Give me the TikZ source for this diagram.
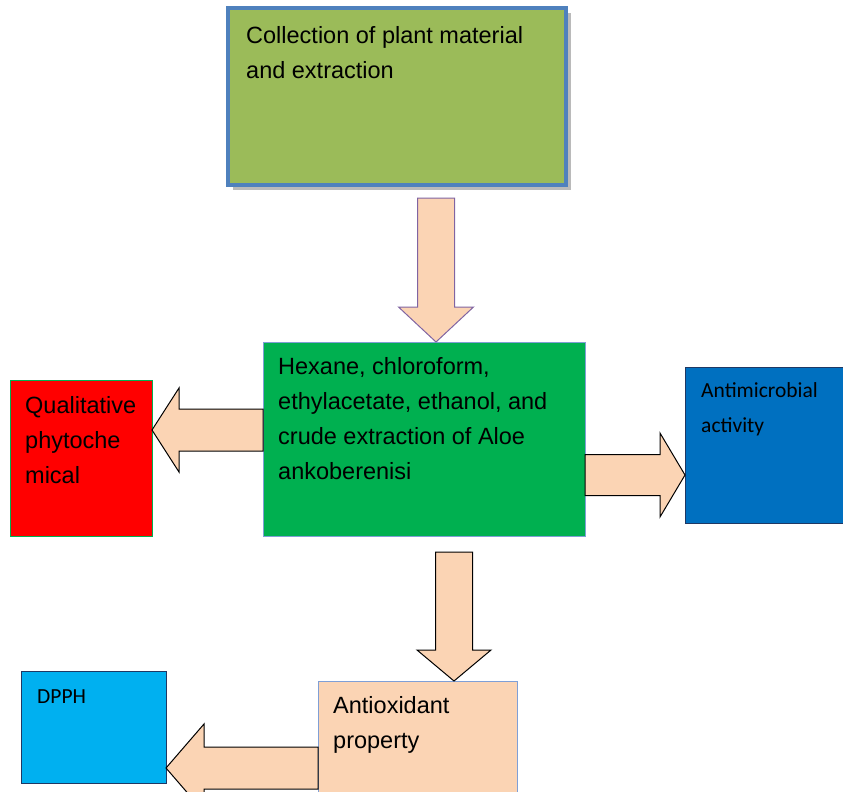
\documentclass[tikz,border=0pt]{standalone}
\usepackage{fontspec}
\setmainfont{Liberation Sans}
\newfontfamily\smallfont{Carlito}
\usepackage{xcolor}
\usepackage{tikz}
\usetikzlibrary{positioning,calc,shadows}
\definecolor{figolive}{HTML}{9BBB59}
\definecolor{figsteel}{HTML}{4F81BD}
\definecolor{figgreen}{HTML}{00B050}
\definecolor{figred}{HTML}{FF0000}
\definecolor{figblue}{HTML}{0070C0}
\definecolor{figsky}{HTML}{00B0F0}
\definecolor{figpeach}{HTML}{FBD4B4}
\definecolor{figedge}{HTML}{7F9FD6}
\definecolor{figdark}{HTML}{1F3864}
\definecolor{figplum}{HTML}{8064A2}

% block arrow: tail, tip, half shaft, half head, head length
\newcommand{\blockarrow}[6][black]{%
  \coordinate (ba) at ($(#3)!#6!(#2)$);
  \draw[fill=figpeach, draw=#1, line width=1pt, line join=miter]
    ($(#2)!#4!90:(#3)$) -- ($(ba)!#4!90:(#3)$) -- ($(ba)!#5!90:(#3)$) -- (#3)
    -- ($(ba)!#5!-90:(#3)$) -- ($(ba)!#4!-90:(#3)$) -- ($(#2)!#4!-90:(#3)$) -- cycle;}

\begin{document}
\begin{tikzpicture}[x=1pt, y=-1pt,
  box/.style={draw, line width=0.8pt, inner sep=0pt, outer sep=0pt, anchor=north west},
  txt/.style={anchor=north west, inner sep=0pt, align=left,
              font=\fontsize{23.5}{35}\selectfont},
  smalltxt/.style={anchor=north west, inner sep=0pt, align=left,
              font=\smallfont\fontsize{21.5}{35}\selectfont}]
\useasboundingbox (0,0) rectangle (843,792);

% boxes
\node[box, fill=figolive, draw=figsteel, line width=4pt, minimum width=338pt, minimum height=177pt,
      drop shadow={shadow xshift=5pt, shadow yshift=-5pt, fill=black!45, opacity=0.6}]
      (collect) at (228,8) {};
\node[box, fill=figgreen, draw=figedge, minimum width=322pt, minimum height=194pt] (solv) at (263,342) {};
\node[box, fill=figred, draw=figgreen, minimum width=142pt, minimum height=156pt] (qual) at (10,380) {};
\node[box, fill=figblue, draw=figdark, minimum width=160pt, minimum height=156pt] (antimic) at (685,367) {};
\node[box, fill=figpeach, draw=figedge, minimum width=199pt, minimum height=130pt] (antiox) at (318,681) {};
\node[box, fill=figsky, draw=figdark, minimum width=145pt, minimum height=112pt] (dpph) at (21,671) {};

% texts
\node[txt] (collecttxt) at ($(collect.north west)+(18,10.5)$) {\strut Collection of plant material\\and extraction};
\node[txt] (solvtxt) at ($(solv.north west)+(15,7.5)$) {\strut Hexane, chloroform,\\ethylacetate, ethanol, and\\crude extraction of Aloe\\ankoberenisi};
\node[txt] (qualtxt) at ($(qual.north west)+(15,8.5)$) {\strut Qualitative\\phytoche\\mical};
\node[txt] (antioxtxt) at ($(antiox.north west)+(15,7.5)$) {\strut Antioxidant\\property};
\node[smalltxt] (antimictxt) at ($(antimic.north west)+(16,5.5)$) {\strut Antimicrobial\\activity};
\node[smalltxt] (dpphtxt) at ($(dpph.north west)+(16,7.5)$) {\strut DPPH};

% arrows
\coordinate (t1) at ($(collect.south west)+(208,13)$);
\coordinate (t2) at ($(solv.north west)+(0,88)$);
\coordinate (t3) at ($(solv.north east)+(0,133)$);
\coordinate (t4) at ($(solv.south west)+(191,16)$);
\coordinate (t5) at ($(antiox.north west)+(0,87)$);
\blockarrow[figplum]{t1}{t1 |- solv.north}{18.5pt}{37.5pt}{35pt}
\blockarrow{t2}{qual.east |- t2}{21pt}{42pt}{27pt}
\blockarrow{t3}{antimic.west |- t3}{20.5pt}{42pt}{25pt}
\blockarrow{t4}{t4 |- antiox.north}{18.5pt}{37pt}{31pt}
\blockarrow{t5}{dpph.east |- t5}{21pt}{44pt}{38pt}
\end{tikzpicture}
\end{document}
